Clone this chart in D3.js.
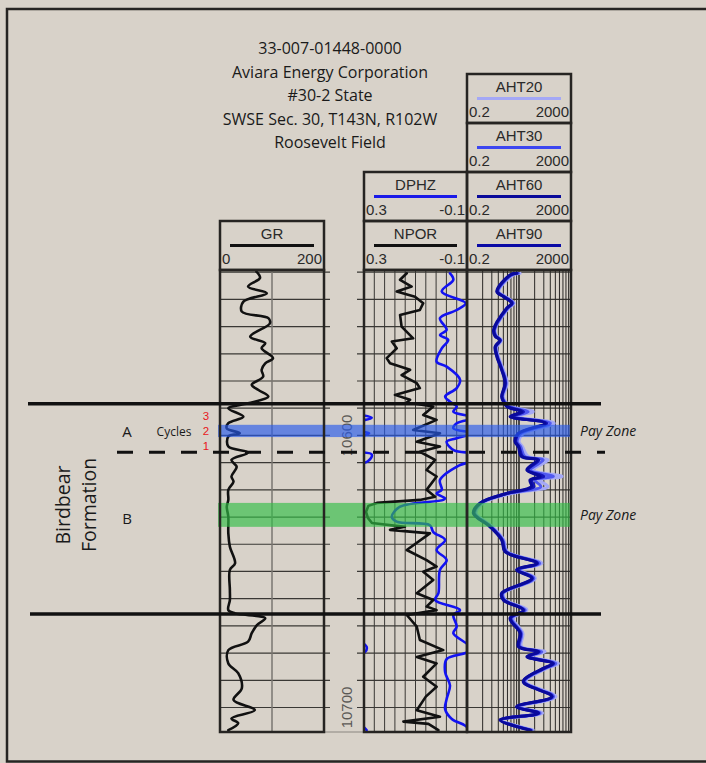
<!DOCTYPE html>
<html><head><meta charset="utf-8">
<script src="https://cdn.jsdelivr.net/npm/d3@7"></script>
<style>
html,body{margin:0;padding:0;background:#d8d2c9;}
svg{display:block;}
</style></head>
<body>
<svg id="chart" width="706" height="763"></svg>
<script>
// ---------------- DATA ----------------
const titleLines = ["33-007-01448-0000","Aviara Energy Corporation","#30-2 State","SWSE Sec. 30, T143N, R102W","Roosevelt Field"];
const depthDomain = [10539.2, 10709.0];
const depthLabels = [10600, 10700];
const gridDepths = [10540,10550,10560,10570,10580,10590,10600,10610,10620,10630,10640,10650,10660,10670,10680,10690,10700];

const formationTops = [10588.4, 10665.6];      // Birdbear top / base
const cycleBoundary = [10606.2];               // A / B boundary (dashed)
const payZones = [
  {name:"Pay Zone", top:10596.1, base:10600.6, color:"rgb(40,90,235)"},
  {name:"Pay Zone", top:10624.8, base:10633.6, color:"rgb(50,190,70)"}
];
const zoneLabels = [{t:"A", d:10598.7},{t:"B", d:10630.5}];
const cycleNumbers = [{t:"3", d:10592.8},{t:"2", d:10598.3},{t:"1", d:10603.8}];

const grDepth = [10539.8,10542.1,10545.3,10547.7,10550.8,10554.5,10556.9,10558.8,10563.7,10566.1,10567.9,10571.6,10573.5,10575.9,10578.4,10581.4,10583.3,10585.7,10588.2,10590,10593.1,10595.5,10597.4,10599.2,10600.4,10604.1,10606.3,10609,10611.5,10615.1,10617,10620,10623.7,10626.2,10629.9,10636,10640.9,10647,10649.4,10656.8,10660.5,10664.2,10665.4,10667.2,10669.7,10672.7,10675.8,10678.9,10683.8,10687.4,10692.9,10697.2,10700.9,10704,10705.8,10708.3];
const grValue = [70,77,54,90,45,42,93,96,58,87,80,102,87,80,83,61,74,93,54,16,45,16,13,38,16,16,54,22,32,22,26,16,16,13,16,16,19,29,19,19,19,16,29,87,71,61,54,16,16,35,42,26,67,22,35,16];

const nporDepth = [10540.4,10542.8,10545.3,10547.1,10549,10551.4,10553.9,10555.7,10560,10564.3,10565.5,10568,10571.6,10573.5,10574.7,10575.9,10577.8,10580.8,10582.6,10585.1,10586.9,10587.9,10589.4,10592.5,10594.3,10598,10599.2,10602.3,10604.1,10606,10609,10612.7,10615.1,10620,10622.5,10623.7,10624.8,10625.9,10628.1,10630.3,10632.2,10633.6,10634.7,10636,10642.1,10645.8,10648.2,10650.1,10653.1,10658,10660.5,10662.9,10664.2,10666,10670.3,10675.2,10678.9,10681.4,10683.8,10688.7,10692.4,10696,10701,10703.4,10705.2,10706,10708.3];
const nporValue = [0.134,0.160,0.115,0.173,0.102,0.070,0.083,0.160,0.154,0.109,0.192,0.173,0.212,0.199,0.160,0.121,0.154,0.095,0.083,0.180,0.121,0.134,0.031,0.070,0.018,0.109,0.005,0.095,0.005,0.083,0.024,0.057,0.018,0.057,0.024,0.083,0.25,0.283,0.292,0.285,0.269,0.141,0.199,0.044,0.134,0.057,0.018,0.070,0.031,0.095,0.031,0.057,0.018,0.134,0.095,0.083,-0.008,0.095,0.018,0.070,0.018,0.06,0.095,0.005,0.147,0.05,0.011];

const dphzDepth = [10540.4,10542.8,10547.1,10551.4,10553.9,10556.9,10561.2,10563.1,10564.9,10568,10572.9,10574.7,10579.5,10582.6,10585.7,10587.6,10589.4,10591.3,10593.5,10595.5,10597.4,10599.2,10601,10602.3,10605.5,10607,10609.5,10611,10616.4,10620,10621.3,10623.1,10623.7,10626.2,10629.9,10631.7,10633,10635.5,10638.4,10642.1,10645.8,10649.4,10658,10660.5,10664.2,10666,10670.3,10672.7,10677.6,10679.5,10682.2,10687,10691.9,10696.9,10700.6,10704.2,10706.6,10708.3];
const dphzValue = [-0.034,-0.047,-0.002,-0.095,-0.060,0.005,-0.021,0.005,-0.027,-0.002,0.018,-0.021,-0.073,-0.060,-0.015,-0.034,-0.060,-0.047,-0.13,-0.06,-0.047,-0.12,-0.06,-0.021,-0.05,-0.13,-0.115,-0.07,0.005,-0.002,0.018,-0.015,-0.008,0.160,0.192,0.173,0.044,0.031,-0.015,0.018,-0.021,0.005,0.011,0.024,-0.073,-0.047,-0.060,-0.047,-0.11,-0.105,-0.021,-0.015,-0.034,-0.021,-0.015,-0.041,-0.092,-0.11];

const resDepth = [10540.4,10541,10547.1,10549,10551.4,10553.2,10561.2,10563.5,10565,10567.4,10571,10575.9,10580.8,10585.7,10587.6,10589.5,10591.3,10593.1,10595.5,10599.2,10602.3,10604.1,10607.8,10609,10612.7,10615.1,10616.4,10618.8,10621.3,10624.9,10628.6,10633.5,10638.4,10642.7,10647,10649.4,10652.5,10658,10660.5,10664.2,10667.2,10672.7,10677.6,10679.5,10681.3,10683.8,10685.6,10690.5,10696,10699.7,10702.1,10704.6,10708.3];
const aht90 = [16,9,2.8,5,10.5,6.7,2.1,2.4,3.7,2.4,2.8,4.3,5.8,4.3,5,7,25,9,200,18.8,14,18.8,25,100,40,130,53,60,6.7,0.63,0.35,1.5,4.3,5.8,96,16,62,4.3,5,29,9,22,18.8,110,40,400,172,29,362,16,110,3.7,53];
const aht60 = [17,9.5,2.9,5.2,11,7,2.2,2.5,3.8,2.5,2.9,4.4,6,4.4,5.2,7.5,30,10,230,20,15,20,28,115,45,180,60,75,7,0.65,0.37,1.6,4.5,6,105,17,66,4.5,5.2,31,9.5,23,20,120,42,430,180,30,380,17,115,3.8,56];
const aht30 = [19,10.5,3.1,5.6,12,7.5,2.3,2.6,4,2.6,3,4.6,6.4,4.6,5.6,9,45,12,320,24,17,23,34,170,55,420,80,140,8,0.7,0.4,1.7,4.8,6.5,125,19,75,4.8,5.6,35,10.5,25,22,150,46,520,200,33,430,19,130,4.1,62];
const aht20 = [22,12,3.3,6,13,8,2.4,2.8,4.3,2.8,3.2,5,7,5,6,11,70,15,450,30,20,27,45,260,70,900,120,260,10,0.8,0.45,1.9,5.2,7,150,22,85,5.2,6,40,12,28,25,200,50,650,230,36,520,22,160,4.5,70];

// ---------------- LAYOUT ----------------
const W = 706, H = 763;
const plotTop = 270, plotBottom = 732;
const grX = [220, 324], porX = [364, 467], resX = [467, 571];
const svg = d3.select("#chart");
const FONT_T = "'Open Sans', Lato, sans-serif";
const FONT_H = "'Liberation Sans', Arial, sans-serif";

const y = d3.scaleLinear().domain(depthDomain).range([plotTop, plotBottom]);
const xGR = d3.scaleLinear().domain([0, 200]).range(grX);
const xPor = d3.scaleLinear().domain([0.3, -0.1]).range(porX);
const xRes = d3.scaleLog().domain([0.2, 2000]).range(resX);
const xResGrid = d3.scaleLog().domain([1, 100]).range(resX);

// background + outer frame
svg.append("rect").attr("width", W).attr("height", H).attr("fill", "#d8d2c9");
svg.append("rect").attr("x", 7).attr("y", 9).attr("width", 760).attr("height", 752.5)
  .attr("fill", "none").attr("stroke", "#262422").attr("stroke-width", 2.5);

// title
svg.append("g").selectAll("text").data(titleLines).join("text")
  .attr("x", 330).attr("y", (d, i) => 54 + i * 23.6)
  .attr("text-anchor", "middle").attr("font-family", FONT_T).attr("font-size", 16)
  .attr("fill", "#1a1a1a").text(d => d);

// clip paths
const defs = svg.append("defs");
[["clipGR", grX], ["clipPor", porX], ["clipRes", resX]].forEach(([id, xr]) => {
  defs.append("clipPath").attr("id", id).append("rect")
    .attr("x", xr[0]).attr("y", plotTop).attr("width", xr[1] - xr[0]).attr("height", plotBottom - plotTop);
});

// ---------------- GRID ----------------
const grid = svg.append("g");
grid.selectAll("line.hgr").data(gridDepths).join("line")
  .attr("x1", grX[0]).attr("x2", grX[1] + 6).attr("y1", d => y(d)).attr("y2", d => y(d))
  .attr("stroke", "#3a3835").attr("stroke-width", 1.2);
grid.selectAll("line.hpor").data(gridDepths).join("line")
  .attr("x1", porX[0] - 7).attr("x2", resX[1]).attr("y1", d => y(d)).attr("y2", d => y(d))
  .attr("stroke", "#3a3835").attr("stroke-width", 1.2);
grid.append("line").attr("x1", xGR(100)).attr("x2", xGR(100)).attr("y1", plotTop).attr("y2", plotBottom)
  .attr("stroke", "#7a7670").attr("stroke-width", 1.5);
const porTicks = d3.range(1, 10).map(i => 0.3 - i * 0.04);
grid.selectAll("line.vpor").data(porTicks).join("line")
  .attr("x1", d => xPor(d)).attr("x2", d => xPor(d)).attr("y1", plotTop).attr("y2", plotBottom)
  .attr("stroke", "#3a3835").attr("stroke-width", 1);
const resGridTicks = d3.range(2, 10).concat([10]).concat(d3.range(20, 100, 10));
grid.selectAll("line.vres").data(resGridTicks).join("line")
  .attr("x1", d => xResGrid(d)).attr("x2", d => xResGrid(d)).attr("y1", plotTop).attr("y2", plotBottom)
  .attr("stroke", "#2a2826").attr("stroke-width", d => d === 10 ? 1.6 : 1);

// depth labels
svg.append("g").selectAll("text").data(depthLabels).join("text")
  .attr("transform", d => `translate(352,${y(d)}) rotate(-90)`)
  .attr("text-anchor", "middle").attr("font-family", FONT_H).attr("font-size", 15)
  .attr("fill", "#5a5855").text(d => d);
svg.append("line").attr("x1", grX[1]).attr("x2", porX[0]).attr("y1", plotBottom).attr("y2", plotBottom)
  .attr("stroke", "#8a8680").attr("stroke-width", 1);

// ---------------- CURVES ----------------
const curves = svg.append("g");
function path(depths, vals, xs, clip, color, width, curve) {
  const line = d3.line().x(d => xs(d[1])).y(d => y(d[0])).curve(curve || d3.curveLinear);
  curves.append("path").datum(depths.map((d, i) => [d, vals[i]]))
    .attr("clip-path", `url(#${clip})`).attr("d", line)
    .attr("fill", "none").attr("stroke", color).attr("stroke-width", width)
    .attr("stroke-linejoin", "round").attr("stroke-linecap", "round");
}
path(grDepth, grValue, xGR, "clipGR", "#111", 2.6, d3.curveCatmullRom);
path(dphzDepth, dphzValue, xPor, "clipPor", "#1212f2", 2.6, d3.curveCatmullRom);
path(dphzDepth, dphzValue.map(v => v + 0.4), xPor, "clipPor", "#1212f2", 2.6, d3.curveCatmullRom);
path(nporDepth, nporValue, xPor, "clipPor", "#111", 2.6, d3.curveLinear);
path(resDepth, aht20, xRes, "clipRes", "#a4a8f6", 3.2, d3.curveCatmullRom);
path(resDepth, aht30, xRes, "clipRes", "#5058f0", 3, d3.curveCatmullRom);
path(resDepth, aht60, xRes, "clipRes", "#1414b8", 3, d3.curveCatmullRom);
path(resDepth, aht90, xRes, "clipRes", "#0a0a9c", 3, d3.curveCatmullRom);

// ---------------- PAY ZONE BANDS ----------------
const bands = svg.append("g");
bands.selectAll("rect").data(payZones).join("rect")
  .attr("x", 218).attr("width", resX[1] - 218)
  .attr("y", d => y(d.top)).attr("height", d => y(d.base) - y(d.top))
  .attr("fill", d => d.color).attr("fill-opacity", 0.65);
bands.selectAll("text").data(payZones).join("text")
  .attr("x", 580).attr("y", d => (y(d.top) + y(d.base)) / 2 + 5)
  .attr("font-family", FONT_T).attr("font-style", "italic").attr("font-size", 14)
  .attr("fill", "#1a1a1a").text(d => d.name);

// ---------------- TRACK BORDERS ----------------
const borders = svg.append("g");
[grX, porX, resX].forEach(xr => {
  borders.append("rect").attr("x", xr[0]).attr("y", plotTop).attr("width", xr[1] - xr[0])
    .attr("height", plotBottom - plotTop).attr("fill", "none")
    .attr("stroke", "#262422").attr("stroke-width", 2.5);
});

// ---------------- HEADERS ----------------
const headers = [
  {name: "GR", color: "#111", lo: "0", hi: "200", x: grX, top: 221},
  {name: "DPHZ", color: "#1a1ae8", lo: "0.3", hi: "-0.1", x: porX, top: 172},
  {name: "NPOR", color: "#111", lo: "0.3", hi: "-0.1", x: porX, top: 221},
  {name: "AHT20", color: "#a4a8f6", lo: "0.2", hi: "2000", x: resX, top: 74},
  {name: "AHT30", color: "#3c46f0", lo: "0.2", hi: "2000", x: resX, top: 123},
  {name: "AHT60", color: "#0a0a9a", lo: "0.2", hi: "2000", x: resX, top: 172},
  {name: "AHT90", color: "#0a0aa5", lo: "0.2", hi: "2000", x: resX, top: 221}
];
const hg = svg.append("g").selectAll("g").data(headers).join("g");
hg.append("rect").attr("x", d => d.x[0]).attr("y", d => d.top).attr("width", d => d.x[1] - d.x[0])
  .attr("height", 49).attr("fill", "none").attr("stroke", "#262422").attr("stroke-width", 2.5);
hg.append("text").attr("x", d => (d.x[0] + d.x[1]) / 2).attr("y", d => d.top + 18)
  .attr("text-anchor", "middle").attr("font-family", FONT_H).attr("font-size", 15)
  .attr("fill", "#2a2a2a").text(d => d.name);
hg.append("line").attr("x1", d => d.x[0] + 10).attr("x2", d => d.x[1] - 10)
  .attr("y1", d => d.top + 24.5).attr("y2", d => d.top + 24.5)
  .attr("stroke", d => d.color).attr("stroke-width", 3);
hg.append("text").attr("x", d => d.x[0] + 2).attr("y", d => d.top + 42.5)
  .attr("font-family", FONT_H).attr("font-size", 15).attr("fill", "#2a2a2a").text(d => d.lo);
hg.append("text").attr("x", d => d.x[1] - 2).attr("y", d => d.top + 42.5).attr("text-anchor", "end")
  .attr("font-family", FONT_H).attr("font-size", 15).attr("fill", "#2a2a2a").text(d => d.hi);

// ---------------- FORMATION MARKERS ----------------
const marks = svg.append("g");
marks.selectAll("line.top").data(formationTops).join("line")
  .attr("x1", (d, i) => i === 0 ? 28 : 30).attr("x2", 601)
  .attr("y1", d => y(d)).attr("y2", d => y(d))
  .attr("stroke", "#111").attr("stroke-width", 3.5);
marks.selectAll("line.cyc").data(cycleBoundary).join("line")
  .attr("x1", 117).attr("x2", 605).attr("y1", d => y(d)).attr("y2", d => y(d))
  .attr("stroke", "#111").attr("stroke-width", 3).attr("stroke-dasharray", "16,16");

marks.selectAll("text.zone").data(zoneLabels).join("text")
  .attr("x", 127).attr("y", d => y(d.d) + 5.5).attr("text-anchor", "middle")
  .attr("font-family", FONT_T).attr("font-size", 15).attr("fill", "#1a1a1a").text(d => d.t);
marks.append("text").attr("x", 174).attr("y", y(10598.7) + 4.5).attr("text-anchor", "middle")
  .attr("font-family", FONT_T).attr("font-size", 12).attr("fill", "#1a1a1a").text("Cycles");
marks.selectAll("text.num").data(cycleNumbers).join("text")
  .attr("x", 206).attr("y", d => y(d.d) + 4.2).attr("text-anchor", "middle")
  .attr("font-family", FONT_H).attr("font-size", 11.5).attr("fill", "#e8161b").text(d => d.t);

const formName = ["Birdbear", "Formation"];
marks.selectAll("text.form").data(formName).join("text")
  .attr("transform", (d, i) => `translate(${70 + i * 26},505) rotate(-90)`)
  .attr("text-anchor", "middle").attr("font-family", FONT_T).attr("font-size", 19.5)
  .attr("fill", "#1a1a1a").text(d => d);
</script>
</body></html>
